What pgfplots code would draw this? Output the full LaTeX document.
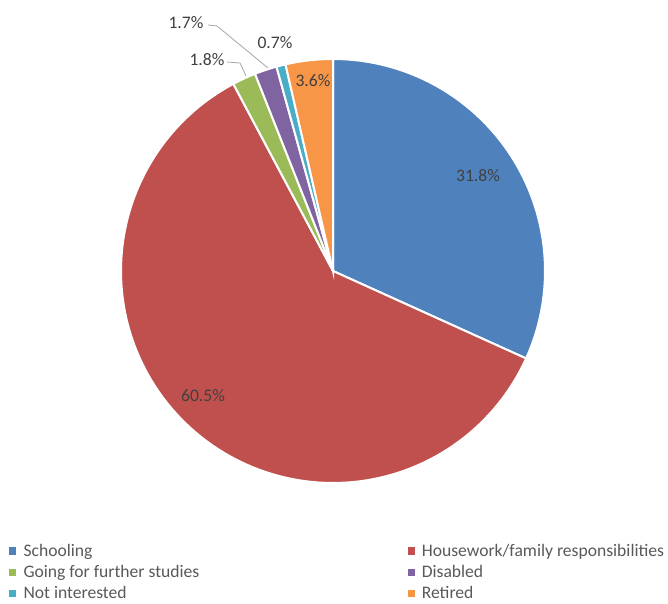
\documentclass[border=0pt]{standalone}
\usepackage{pgfplots}
\pgfplotsset{compat=1.18}
\usepackage{fontspec}
\setmainfont{Carlito}
\definecolor{cBlue}{HTML}{4F81BD}
\definecolor{cRed}{HTML}{C0504D}
\definecolor{cGreen}{HTML}{9BBB59}
\definecolor{cPurple}{HTML}{8064A2}
\definecolor{cCyan}{HTML}{4BACC6}
\definecolor{cOrange}{HTML}{F79646}
\definecolor{lbl}{HTML}{404040}
\definecolor{leg}{HTML}{595959}
\begin{document}
\begin{tikzpicture}
% data values (percent)
\def\vA{31.8}\def\vB{60.5}\def\vC{1.8}\def\vD{1.7}\def\vE{0.7}\def\vF{3.6}
\pgfmathsetmacro{\tot}{\vA+\vB+\vC+\vD+\vE+\vF}
\pgfmathsetmacro{\aA}{90}
\pgfmathsetmacro{\aB}{\aA-\vA/\tot*360}
\pgfmathsetmacro{\aC}{\aB-\vB/\tot*360}
\pgfmathsetmacro{\aD}{\aC-\vC/\tot*360}
\pgfmathsetmacro{\aE}{\aD-\vD/\tot*360}
\pgfmathsetmacro{\aF}{\aE-\vE/\tot*360}
\pgfmathsetmacro{\aG}{\aF-\vF/\tot*360}
\def\cx{333}\def\cy{328}\def\R{212}
\begin{axis}[
  at={(0,0)}, anchor=south west,
  scale only axis, width=501pt, height=449.25pt,
  xmin=0, xmax=668, ymin=0, ymax=599,
  hide axis, clip=false,
  legend columns=2,
  legend cell align=left,
  legend image code/.code={\fill[#1,draw=none] (0pt,-2.7pt) rectangle (5.4pt,2.7pt);},
  legend style={at={(axis cs:9,58)}, anchor=north west, draw=none, fill=none,
    inner sep=0pt, font=\fontsize{13.2pt}{15pt}\selectfont, text=leg,
    row sep=1.3pt,
    /tikz/every odd column/.append style={column sep=3.3pt}},
]
\addplot[fill=cBlue, draw=white, line width=1.5pt, domain=\aB:\aA, samples=60]
  ({\cx+\R*cos(x)},{\cy+\R*sin(x)}) -- (axis cs:\cx,\cy) -- cycle;
\addlegendentry{\makebox[286pt][l]{Schooling}}
\addplot[fill=cRed, draw=white, line width=1.5pt, domain=\aC:\aB, samples=120]
  ({\cx+\R*cos(x)},{\cy+\R*sin(x)}) -- (axis cs:\cx,\cy) -- cycle;
\addlegendentry{Housework/family responsibilities}
\addplot[fill=cGreen, draw=white, line width=1.5pt, domain=\aD:\aC, samples=10]
  ({\cx+\R*cos(x)},{\cy+\R*sin(x)}) -- (axis cs:\cx,\cy) -- cycle;
\addlegendentry{\makebox[286pt][l]{Going for further studies}}
\addplot[fill=cPurple, draw=white, line width=1.5pt, domain=\aE:\aD, samples=10]
  ({\cx+\R*cos(x)},{\cy+\R*sin(x)}) -- (axis cs:\cx,\cy) -- cycle;
\addlegendentry{Disabled}
\addplot[fill=cCyan, draw=white, line width=1.5pt, domain=\aF:\aE, samples=6]
  ({\cx+\R*cos(x)},{\cy+\R*sin(x)}) -- (axis cs:\cx,\cy) -- cycle;
\addlegendentry{\makebox[286pt][l]{Not interested}}
\addplot[fill=cOrange, draw=white, line width=1.5pt, domain=\aG:\aF, samples=12]
  ({\cx+\R*cos(x)},{\cy+\R*sin(x)}) -- (axis cs:\cx,\cy) -- cycle;
\addlegendentry{Retired}
% leader lines
\addplot[color=black!35, line width=0.6pt, forget plot] coordinates {(208,574) (217,573) (268,531)};
\addplot[color=black!35, line width=0.6pt, forget plot] coordinates {(227,537) (240,536) (246,523)};
% data labels
\begin{scope}[every node/.style={text=lbl, font=\fontsize{13.2pt}{15pt}\selectfont}]
\node at (axis cs:478,423) {31.8\%};
\node at (axis cs:203,203) {60.5\%};
\node at (axis cs:207,539) {1.8\%};
\node at (axis cs:186,576) {1.7\%};
\node at (axis cs:275,556) {0.7\%};
\node at (axis cs:313,518) {3.6\%};
\end{scope}
\path (axis cs:0,0) rectangle (axis cs:668,599);
\end{axis}
\end{tikzpicture}
\end{document}
